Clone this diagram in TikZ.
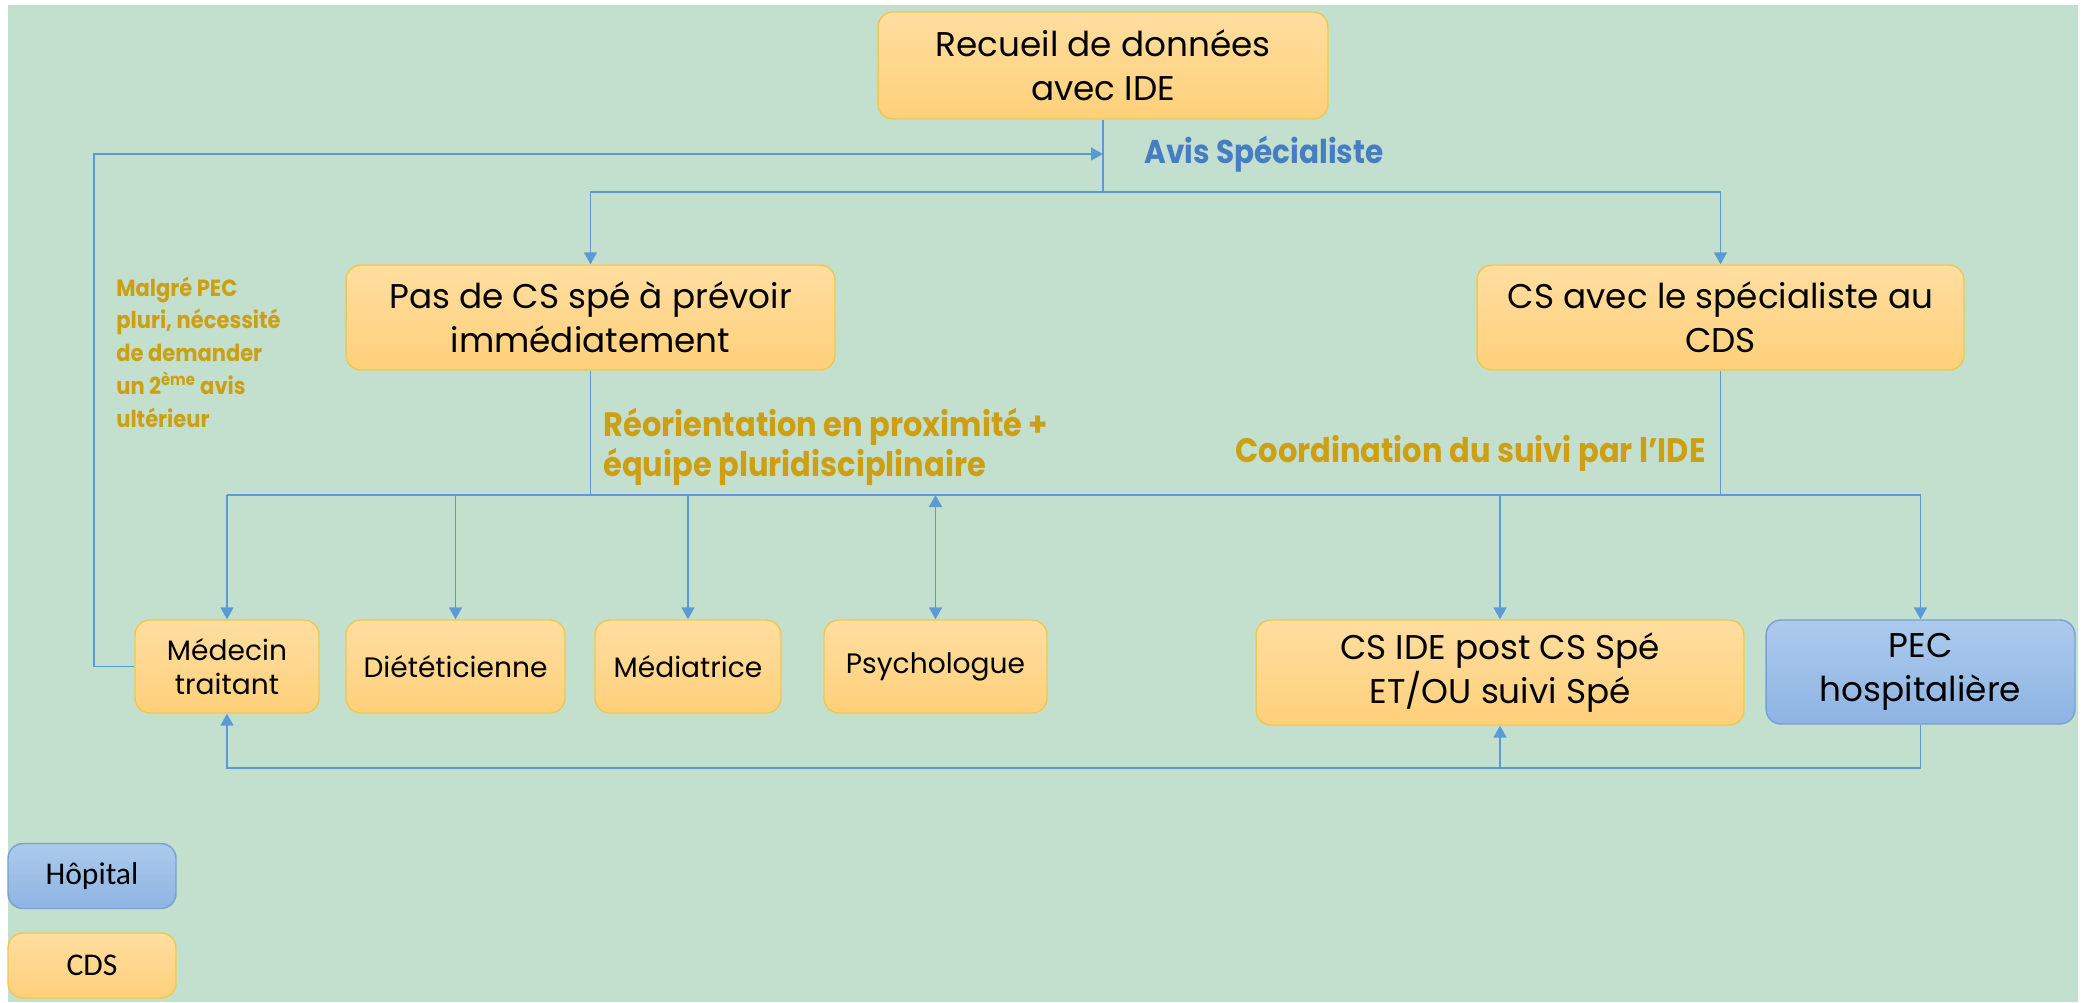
\documentclass[tikz,border=0pt]{standalone}
\usepackage{fontspec}
\setmainfont{Poppins}
\newfontfamily\lblfont[FakeStretch=0.9]{Poppins}
\newfontfamily\legfont{Carlito}
\usetikzlibrary{arrows.meta,positioning}

\definecolor{bggreen}{RGB}{194,224,205}
\definecolor{cdstop}{RGB}{255,222,160}
\definecolor{cdsbot}{RGB}{255,208,122}
\definecolor{cdsline}{RGB}{240,200,80}
\definecolor{hoptop}{RGB}{172,202,236}
\definecolor{hopbot}{RGB}{142,180,226}
\definecolor{hopline}{RGB}{120,160,210}
\definecolor{linkblue}{RGB}{91,155,213}
\definecolor{avisblue}{RGB}{70,125,195}
\definecolor{ocre}{RGB}{205,160,20}

\begin{document}
\begin{tikzpicture}[
	x=0.02cm, y=-0.02cm,
	cds/.style={
		rectangle, rounded corners=0.3cm,
		draw=cdsline, line width=0.8pt,
		top color=cdstop, bottom color=cdsbot,
		align=center, inner sep=0pt
	},
	hop/.style={cds, draw=hopline, top color=hoptop, bottom color=hopbot},
	big/.style={font=\fontsize{19.5}{25}\selectfont},
	small/.style={font=\fontsize{16}{19}\selectfont},
	legend/.style={font=\legfont\fontsize{18}{20}\selectfont,
		minimum width=3.36cm, minimum height=1.3cm},
	link/.style={line width=1pt, linkblue},
	arr/.style={link, -{Triangle[length=0.24cm,width=0.26cm]}},
	darr/.style={link, {Triangle[length=0.24cm,width=0.26cm]}-{Triangle[length=0.24cm,width=0.26cm]}},
	lbl/.style={font=\lblfont\bfseries\fontsize{19.3}{23}\selectfont,
		ocre, align=left, inner sep=0pt}
]

% background
\fill[white] (0,0) rectangle (2085,1002);
\fill[bggreen] (8,5) rectangle (2078,1002);

% top
\node[cds, big, minimum width=9cm, minimum height=2.14cm] (recueil) at (1103,65.5)
	{Recueil de données\\avec IDE};
\node[cds, big, minimum width=9.78cm, minimum height=2.1cm] (pasde) at (590.5,317.5)
	{Pas de CS spé à prévoir\\immédiatement};
\node[cds, big, minimum width=9.74cm, minimum height=2.1cm] (csavec) at (1720.5,317.5)
	{CS avec le spécialiste au\\CDS};

% bottom row
\node[cds, small, minimum width=3.68cm, minimum height=1.86cm] (medecin) at (227,666.5)
	{Médecin\\traitant};
\node[cds, small, minimum width=4.38cm, minimum height=1.86cm] (diet) at (455.5,666.5)
	{Diététicienne};
\node[cds, small, minimum width=3.72cm, minimum height=1.86cm] (mediat) at (688,666.5)
	{Médiatrice};
\node[cds, small, minimum width=4.46cm, minimum height=1.86cm] (psycho) at (935.5,666.5)
	{Psychologue};
\node[cds, big, minimum width=9.76cm, minimum height=2.1cm] (csidepost) at (1500,672.5)
	{CS IDE post CS Spé\\ET/OU suivi Spé};
\node[hop, big, minimum width=6.18cm, minimum height=2.08cm] (pec) at (1920.5,672)
	{PEC\\hospitalière};

% legend
\node[hop, legend] (leghop) at (92,876) {Hôpital};
\node[cds, legend] (legcds) at (92,965.5) {CDS};

% labels
\node[lbl, avisblue, font=\lblfont\bfseries\fontsize{18.7}{22}\selectfont, anchor=west]
	(avislbl) at (1144,154) {Avis Spécialiste};
\node[lbl, font=\lblfont\bfseries\fontsize{13.3}{18.6}\selectfont, anchor=west]
	(malgre) at (116,352)
	{Malgré PEC\\pluri, nécessité\\de demander\\un 2\textsuperscript{ème} avis\\ultérieur};
\node[lbl, anchor=west] (reorient) at (603,447)
	{Réorientation en proximité +\\équipe pluridisciplinaire};
\node[lbl, anchor=east] (coord) at (1706,453) {Coordination du suivi par l’IDE};

% connectors
\coordinate (avis)  at (1103,154);
\coordinate (split) at (1103,192);
\coordinate (bus)   at (0,495);
\coordinate (ret)   at (0,768);

\draw[link] (recueil.south) -- (split);
\draw[arr] (split) -| (pasde.north);
\draw[arr] (split) -| (csavec.north);
\draw[arr] (medecin.west) -- (94,666.5) |- (avis);

\draw[link] (pasde.south) -- (pasde.south |- bus);
\draw[link] (csavec.south) -- (csavec.south |- bus);
\draw[link] (medecin.north |- bus) -- (pec.north |- bus);
\foreach \b in {medecin,diet,mediat,csidepost,pec}
	\draw[arr] (\b.north |- bus) -- (\b.north);
\draw[darr] (psycho.north |- bus) -- (psycho.north);

\draw[arr] (pec.south) -- (pec.south |- ret) -| (medecin.south);
\draw[arr] (csidepost.south |- ret) -- (csidepost.south);

\end{tikzpicture}
\end{document}
